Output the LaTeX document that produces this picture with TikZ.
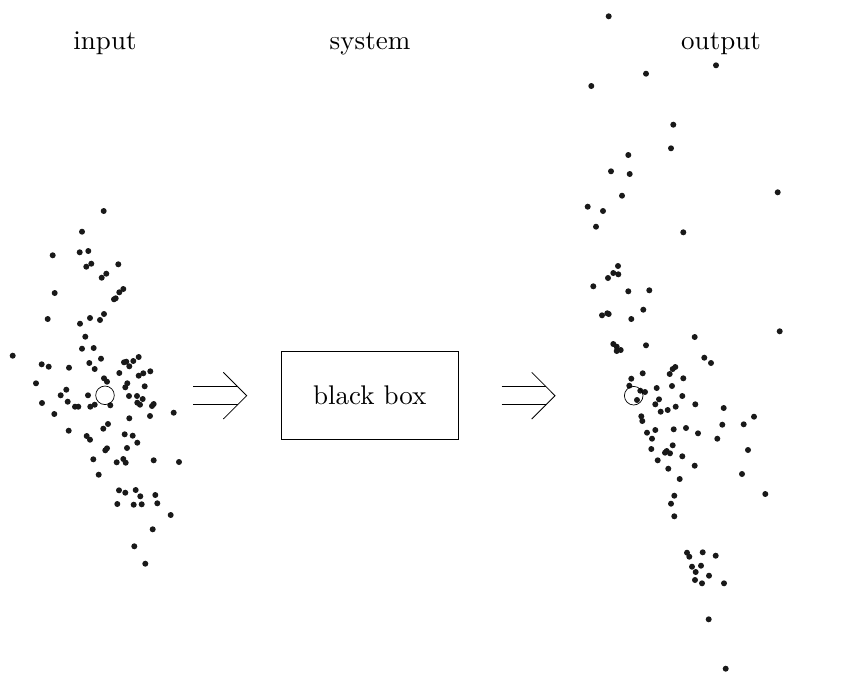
\documentclass[tikz,border=0pt]{standalone}
\usepackage{fontspec}
\newfontfamily\tenrm{lmroman10-regular}[Extension=.otf]
\begin{document}
\begin{tikzpicture}[x=1pt,y=-1pt,
  lbl/.style={font=\tenrm\fontsize{27}{32}\selectfont, inner sep=0pt, anchor=base},
  boxnode/.style={draw, line width=0.8pt, minimum width=177pt, minimum height=88pt, font=\tenrm\fontsize{27}{32}\selectfont, inner sep=0pt},
  pt/.style={fill=black!90},
  ring/.style={draw, line width=0.7pt},
  arr/.style={line width=0.8pt}]
\useasboundingbox (0,0) rectangle (859,673);
\fill[white] (0,0) rectangle (859,673);
% labels
\node[lbl] (lin) at (105,49) {input};
\node[lbl] (lsys) at (370,49) {system};
\node[lbl] (lout) at (721,49) {output};
% box
\node[boxnode] (bb) at (369.7,395.5) {black box};
% left arrow
\coordinate (a1t) at (246.7,395.7);
\coordinate (a1u) at (223.3,372.3);
\coordinate (a1d) at (223.3,419);
\coordinate (a1s1) at (193,386.7);
\coordinate (a1e1) at (238,386.7);
\coordinate (a1s2) at (193,404.3);
\coordinate (a1e2) at (238,404.3);
\draw[arr] (a1s1) -- (a1e1);
\draw[arr] (a1s2) -- (a1e2);
\draw[arr] (a1u) -- (a1t) -- (a1d);
% right arrow
\coordinate (a2t) at (555,395.7);
\coordinate (a2u) at (531.7,372.3);
\coordinate (a2d) at (531.7,419);
\coordinate (a2s1) at (501.7,386.7);
\coordinate (a2e1) at (546.3,386.7);
\coordinate (a2s2) at (501.7,404.3);
\coordinate (a2e2) at (546.3,404.3);
\draw[arr] (a2s1) -- (a2e1);
\draw[arr] (a2s2) -- (a2e2);
\draw[arr] (a2u) -- (a2t) -- (a2d);
% input cloud
\foreach \p in {(103.7,211),(82,231.7),(52.7,255.3),(79.7,252.3),(88.3,251),(91.3,263.7),(86.3,266.7),(118.3,264.3),(101.7,277.7),(106.3,273.7),(54.7,293),(123.3,289),(119.3,292.3),(115.7,298.3),(114,299.3),(47.7,319),(90,318),(104,314),(100,320),(80,323.7),(85.3,336.7),(82,348.7),(93.7,348),(12.7,355.7),(101,358.7),(41.7,364.3),(48.7,366.7),(69,367.7),(89.3,363),(94.7,369),(124,362.3),(126.3,361.7),(133.3,361),(138.7,357),(129.3,366.3),(119.3,373),(138.7,375.7),(143.3,373.3),(150.3,371.3),(36,383.3),(104,378.3),(107,381.7),(127.3,383.3),(125.3,387.3),(144.7,386.3),(66.3,389.7),(60.7,395.3),(88,395.3),(129,396),(137,396),(142.7,399),(42,403),(67.7,401.7),(75,406.7),(78.3,406.7),(90.3,406.7),(94.7,404.7),(110.3,405.3),(137.3,402.7),(140,404.7),(152,406),(153.7,404),(54.3,414),(129.3,418.3),(150,416),(173.7,412.7),(68.7,430.7),(103.3,428.7),(108,424),(86.7,436),(90,439.7),(124.7,434.3),(132.7,435.7),(137.3,442.7),(127,448),(105.3,450.3),(107,448.3),(93.3,459.3),(116.7,462.3),(123.3,459),(125.7,462.7),(153.7,460.3),(179,462),(98.7,474.7),(119,490.3),(125.3,492.7),(135.7,490),(140.3,496.3),(155.3,495),(117.3,504),(133.7,504.7),(141.7,504.3),(157.3,503.3),(170.7,515),(152.7,529.3),(134.3,546.3),(145.3,563.7)}
  \fill[pt] \p circle (3.0);
\draw[ring] (105,395.3) circle (9.3);
% output cloud
\foreach \p in {(608.7,16.3),(716,65.3),(646,73.7),(591.3,86),(673.3,124.7),(671,148.3),(628.3,155),(611,171.3),(629.7,174),(622,195.7),(777.7,192.3),(587.7,206.7),(603,211),(596,226.7),(683.3,232.3),(618,266),(613.3,273),(618.3,274.3),(608,278),(593.3,286.3),(628.3,291.3),(649.3,290.3),(643.3,309.7),(602,315.3),(607.3,313.3),(608.7,314),(631.3,319),(779.7,331.3),(694.7,337),(613.3,344),(616.7,346.7),(620.7,350),(616.7,351),(646,345.3),(704.3,357.7),(711,363),(675.3,367),(672.7,369),(669.7,374),(642.7,373.3),(631.3,378.7),(683.3,378.3),(629.3,385.7),(640.3,390.7),(645,392),(656.7,388),(672,386),(637,400),(659,399.3),(655.3,404.3),(682.3,396),(675.7,406.7),(667.7,410),(660.7,411.7),(695.3,404.3),(723.7,408),(641.3,416.3),(642.3,421),(754,416.7),(722.3,424.7),(743.7,424.3),(647,432.7),(655.3,430),(673.7,429.3),(686,428),(698,433.3),(652,438.7),(717.3,438.7),(748,450),(651.3,449),(672.7,445.3),(665,452.7),(666.7,451),(670,453.3),(682.3,456.3),(657.7,460.3),(694.7,465.7),(668.3,468.7),(742,474),(679.7,479),(765.3,494),(674.3,495.7),(671,503.7),(674.3,516.3),(687,552.7),(689.3,556.7),(702.7,552.3),(715.7,555.7),(692,566.7),(701,565.7),(695.7,572),(709,575.7),(695,580),(702,583.3),(724,583.3),(708.7,619.3),(725.7,668.7)}
  \fill[pt] \p circle (3.0);
\draw[ring] (633.7,395.7) circle (9.3);
\end{tikzpicture}
\end{document}
